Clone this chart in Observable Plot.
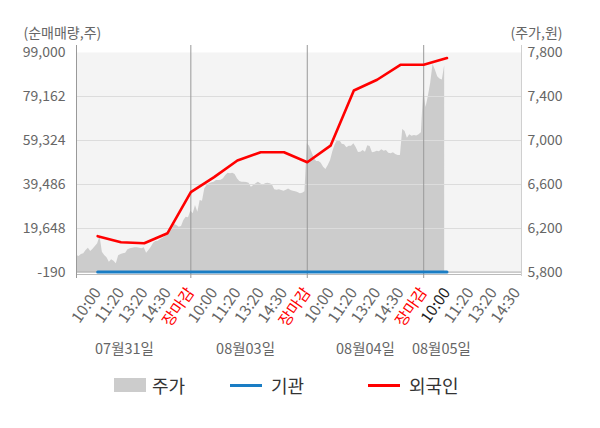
<!DOCTYPE html>
<html><head><meta charset="utf-8">
<script src="https://cdn.jsdelivr.net/npm/d3@7"></script>
<script src="https://cdn.jsdelivr.net/npm/@observablehq/plot@0.6"></script>
<style>
body{margin:0;background:#fff;font-family:"Noto Sans CJK KR",sans-serif;}
#chart{width:600px;height:365px;}
#legend{position:relative;width:600px;height:63px;color:#333;font-size:18px;}
#legend .sw{position:absolute;}
#legend .tx{position:absolute;line-height:24px;top:8px;}
</style></head><body>
<div id="chart"></div>
<div id="legend">
  <div class="sw" style="left:114px;top:13px;width:32px;height:14px;background:#cccccc"></div>
  <span class="tx" style="left:152px">주가</span>
  <div class="sw" style="left:230px;top:18.5px;width:32px;height:3px;background:#1a7dc4"></div>
  <span class="tx" style="left:271px">기관</span>
  <div class="sw" style="left:368px;top:18.5px;width:32px;height:3px;background:#ff0000"></div>
  <span class="tx" style="left:409px">외국인</span>
</div>
<script>
// 주가 (price, 원) — one value per time slot, slot index starts at 1
const priceValues = [
5955,5945,5964,5970,6000,6021,5991,6012,6036,6061,
6130,5985,5955,5933,5894,5915,5903,5880,5952,5964,
5970,5976,6006,6015,6021,6024,6024,6021,6015,6024,
5976,6000,6030,6067,6082,6085,6100,6112,6127,6152,
6173,6188,6236,6227,6212,6218,6273,6303,6297,6360,
6333,6409,6348,6455,6448,6561,6591,6606,6615,6621,
6636,6636,6639,6652,6682,6703,6697,6703,6691,6652,
6627,6621,6621,6618,6612,6576,6591,6606,6621,6606,
6588,6606,6612,6606,6597,6552,6548,6552,6545,6539,
6548,6558,6545,6539,6533,6527,6515,6521,6533,6970,
6948,6894,6839,6809,6809,6794,6757,6736,6773,6818,
6900,6961,7000,7000,6967,6961,6933,6948,6948,6970,
6936,6891,6894,6909,6894,6952,6945,6888,6894,6903,
6897,6915,6903,6909,6885,6879,6888,6873,6864,6864,
7100,7082,7021,7052,7039,7045,7042,7052,7070,7460,
7300,7400,7520,7690,7640,7580,7560,7550,7680
];
// 외국인 / 기관 순매매량 (주) at tick slots
const flowSlots = [10,20,30,40,50,60,70,80,90,100,110,120,130,140,150,160];
const foreignValues = [16177,13472,13020,17530,36014,42800,50300,54000,54000,49540,57000,81867,86700,93454,93454,96500];
const institutionValues = [0,0,0,0,0,0,0,0,0,0,0,0,0,0,0,0];

const leftTicks = [-190, 19648, 39486, 59324, 79162, 99000];
const rightTicks = [5800, 6200, 6600, 7000, 7400, 7800];
const tickSlots = [10,20,30,40,50,60,70,80,90,100,110,120,130,140,150,160,170,180,190];
const tickLabels = ["10:00","11:20","13:20","14:30","장마감","10:00","11:20","13:20","14:30","장마감","10:00","11:20","13:20","14:30","장마감","10:00","11:20","13:20","14:30"];
const dayBreaks = [50, 100, 150];
const dateLabels = ["07월31일","08월03일","08월04일","08월05일"];
const dateSlots = [21.5, 73.5, 125, 157.6];
const leftTitle = "(순매매량,주)";
const rightTitle = "(주가,원)";

const toV = p => -190 + (p - 5800) / 2000 * 99190;
const toP = v => 5800 + (v + 190) / 99190 * 2000;
const fmt = n => Math.round(n).toLocaleString("en-US");

const price = priceValues.map((p, k) => ({i: k + 1, p}));
const foreign = flowSlots.map((s, k) => ({s, v: foreignValues[k]}));
const inst = flowSlots.map((s, k) => ({s, v: institutionValues[k]}));
const labelOf = new Map(tickSlots.map((t, k) => [t, tickLabels[k]]));
const redTicks = tickSlots.filter(t => labelOf.get(t) === "장마감");
const blackTicks = [160];
const grayTicks = tickSlots.filter(t => !redTicks.includes(t) && !blackTicks.includes(t));

const xAxisOpts = {anchor: "bottom", tickSize: 0, tickPadding: 17, tickRotate: -55, tickFormat: d => labelOf.get(d), label: null, fontSize: 15.5};

const chart = Plot.plot({
  width: 600, height: 365,
  marginLeft: 76, marginRight: 79, marginTop: 52, marginBottom: 93,
  style: {fontFamily: '"Noto Sans CJK KR", sans-serif', fontSize: "14px", background: "#fff", overflow: "visible"},
  x: {domain: [0.9, 192], axis: null},
  y: {domain: [-190, 99000], axis: null},
  marks: [
    Plot.frame({fill: "#f4f4f4", stroke: null}),
    Plot.areaY(price, {x: "i", y1: () => toV(5800), y2: d => toV(d.p), fill: "#cccccc", curve: "linear"}),
    Plot.gridY(leftTicks.slice(1, -1), {stroke: "#dcdcdc", strokeOpacity: 1}),
    Plot.ruleY([0], {stroke: "#aaaaaa"}),
    Plot.ruleY([-190], {stroke: "#bbbbbb", dy: 2}),
    Plot.ruleX([0.9], {stroke: "#999", insetTop: -7, insetBottom: -6}),
    Plot.ruleX(dayBreaks, {stroke: "#999", insetTop: -7, insetBottom: -6}),
    Plot.ruleX([192], {stroke: "#cfcfcf", insetTop: -7, insetBottom: -4}),
    Plot.line(inst, {x: "s", y: "v", stroke: "#1a7dc4", strokeWidth: 3}),
    Plot.line(foreign, {x: "s", y: "v", stroke: "#ff0000", strokeWidth: 2.6}),
    Plot.axisY(leftTicks, {anchor: "left", tickSize: 0, tickPadding: 11, tickFormat: fmt, fill: "#666", label: null, fontSize: 14}),
    Plot.axisY(rightTicks.map(toV), {anchor: "right", tickSize: 0, tickPadding: 6, tickFormat: v => fmt(toP(v)), fill: "#666", label: null, fontSize: 14}),
    Plot.axisX(grayTicks, {...xAxisOpts, fill: "#666"}),
    Plot.axisX(redTicks, {...xAxisOpts, fill: "#ff0000"}),
    Plot.axisX(blackTicks, {...xAxisOpts, fill: "#222"}),
    Plot.text([leftTitle], {frameAnchor: "top-left", dx: -53, dy: -24, textAnchor: "start", fill: "#666", fontSize: 14}),
    Plot.text([rightTitle], {frameAnchor: "top-right", dx: 41, dy: -24, textAnchor: "end", fill: "#666", fontSize: 14}),
    Plot.text(dateLabels, {x: (d, k) => dateSlots[k], frameAnchor: "bottom", dy: 81, fill: "#666", fontSize: 14.5})
  ]
});
document.getElementById("chart").appendChild(chart);
</script>
</body></html>
